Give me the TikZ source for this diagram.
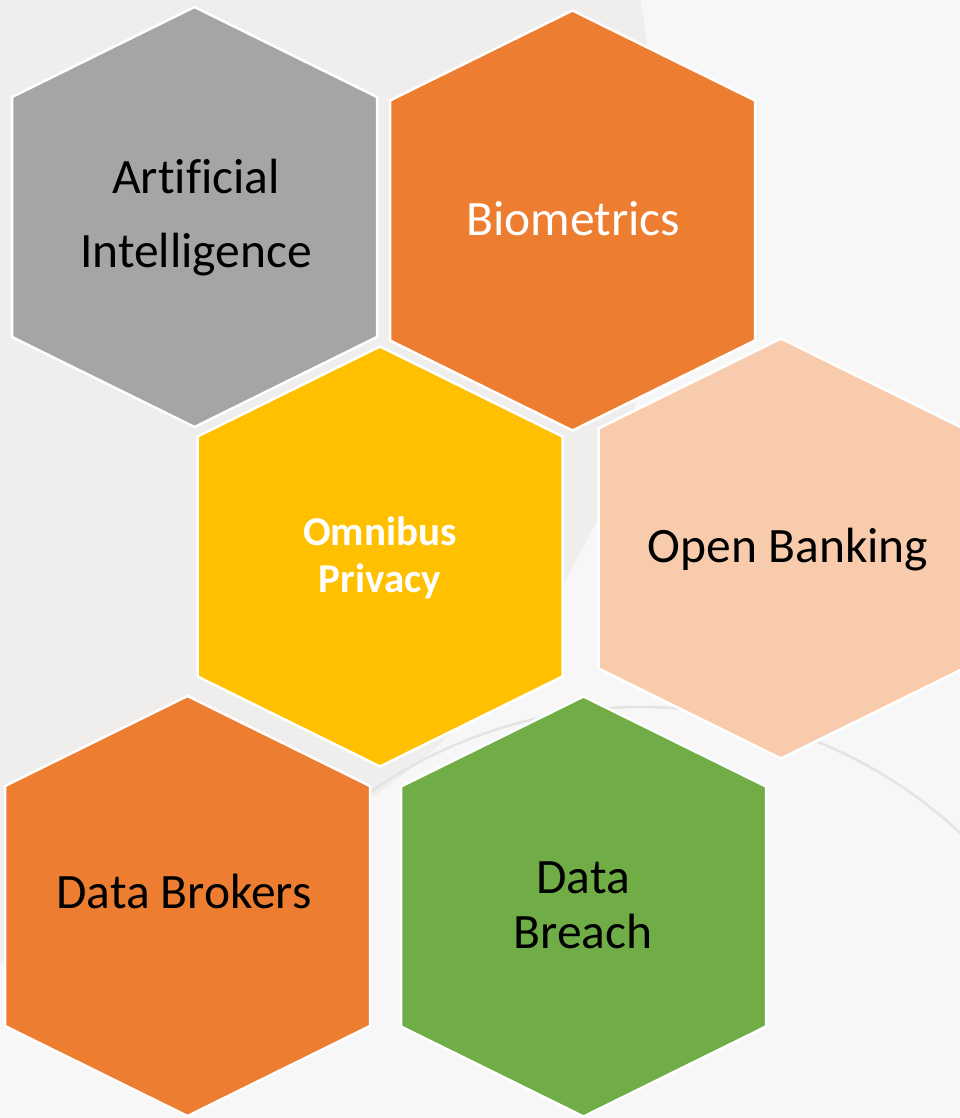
\documentclass[tikz,border=0pt]{standalone}
\usepackage{fontspec}
\setmainfont{Carlito}[Ligatures=NoCommon]
\definecolor{bglight}{HTML}{F7F7F7}
\definecolor{bgdark}{HTML}{EFEEEC}
\definecolor{arcline}{HTML}{E4E4E4}
\definecolor{hexgray}{HTML}{A5A5A5}
\definecolor{hexorange}{HTML}{ED7D31}
\definecolor{hexyellow}{HTML}{FFC000}
\definecolor{hexpeach}{HTML}{F8CBAD}
\definecolor{hexgreen}{HTML}{70AD47}
\begin{document}
\begin{tikzpicture}[x=1pt,y=-1pt,
  hexcell/.pic={\path[pic actions] (0,-210) -- (182.5,-120) -- (182.5,120)
      -- (0,210) -- (-182.5,120) -- (-182.5,-120) -- cycle;},
  hexedge/.style={draw=white, line width=2.5pt, line join=miter},
  lbl/.style={inner sep=0pt, outer sep=0pt, align=center, anchor=base,
      font=\fontsize{49.5}{55}\selectfont},
]
\useasboundingbox (0,0) rectangle (960,1118);
\clip (0,0) rectangle (960,1118);

% backdrop: light page with a soft darker sweep on the upper left
\fill[bglight] (0,0) rectangle (960,1118);
\fill[bgdark] plot[smooth, tension=0.6] coordinates
  {(640,-2) (658,180) (632,420) (568,575) (470,712) (375,795) (200,905) (0,963)}
  -- (-2,-2) -- cycle;
\coordinate (arcc) at (640,1177);
\draw[arcline, line width=2.5pt] (arcc) ++(-128:470) arc[start angle=-128, end angle=-25, radius=470];

% cell centres
\coordinate (c1) at (194.5,217);
\coordinate (c2) at (572.5,220.5);
\coordinate (c3) at (380,556.5);
\coordinate (c4) at (781,548.5);
\coordinate (c5) at (187.5,906);
\coordinate (c6) at (583.5,906.5);

% honeycomb cells
\pic[hexedge, fill=hexgray]   at (c1) {hexcell};
\pic[hexedge, fill=hexorange] at (c2) {hexcell};
\pic[hexedge, fill=hexyellow] at (c3) {hexcell};
\pic[hexedge, fill=hexpeach]  at (c4) {hexcell};
\pic[hexedge, fill=hexorange] at (c5) {hexcell};
\pic[hexedge, fill=hexgreen]  at (c6) {hexcell};

% labels (multi-line labels sit on the baseline of their last line)
\node[lbl, font=\fontsize{49.5}{74}\selectfont] (ai) at (196,267) {Artificial\\Intelligence};
\node[lbl, text=white] (bio) at (573,235) {Biometrics};
\node[lbl, text=white, font=\fontsize{41}{47}\selectfont\bfseries] (omni) at (380,592) {Omnibus\\Privacy};
\node[lbl] (open) at (788,562) {Open Banking};
\node[lbl] (brok) at (184,908) {Data Brokers};
\node[lbl] (breach) at (583,948) {Data\\Breach};
\end{tikzpicture}
\end{document}
